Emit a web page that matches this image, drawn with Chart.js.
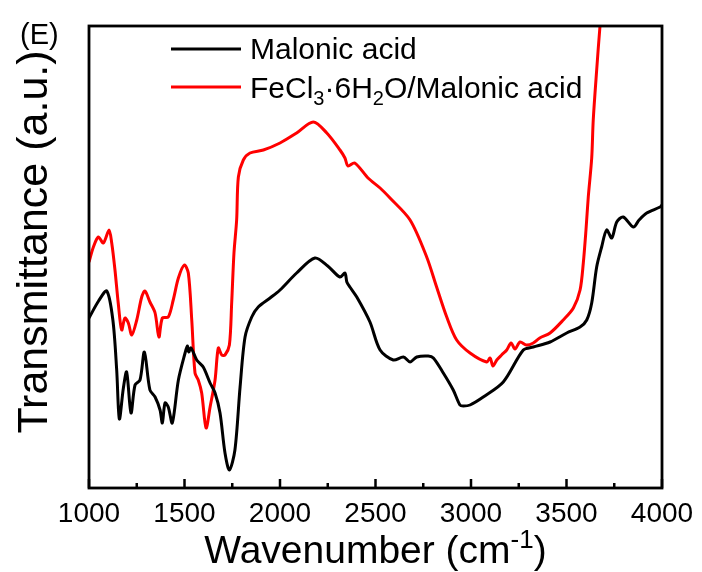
<!DOCTYPE html>
<html>
<head>
<meta charset="utf-8">
<script src="https://cdn.jsdelivr.net/npm/chart.js@4/dist/chart.umd.min.js"></script>
<style>
  html, body { margin: 0; padding: 0; background: #fff; }
  #wrap { width: 702px; height: 572px; }
</style>
</head>
<body>
<div id="wrap"><canvas id="ftir"></canvas></div>
<script>
/* ===== Data (arbitrary transmittance units) ===== */
const malonicX = [1000, 1050, 1093, 1125, 1145, 1159, 1180, 1197, 1220, 1241, 1267, 1290, 1319, 1346, 1372, 1384, 1398, 1415, 1436, 1468, 1503, 1515, 1522, 1534, 1564, 1598, 1634, 1660, 1686, 1712, 1735, 1764, 1791, 1817, 1852, 1886, 1948, 2000, 2087, 2183, 2250, 2314, 2340, 2350, 2366, 2402, 2471, 2524, 2593, 2646, 2681, 2716, 2776, 2803, 2855, 2907, 2942, 2960, 2995, 3064, 3169, 3274, 3326, 3414, 3501, 3571, 3606, 3632, 3658, 3684, 3710, 3737, 3763, 3797, 3850, 3880, 3920, 3990, 4000];
const malonicY = [170, 187, 197, 168, 118, 69, 100, 116, 75, 103, 108, 136, 98, 91, 78, 65, 85, 81, 65, 108, 135, 142, 136, 140, 128, 121, 105, 95, 75, 35, 18, 38, 101, 151, 171, 181, 190, 198, 215, 230, 222, 211, 215, 206, 201, 191, 166, 138, 128, 131, 126, 131, 132, 130, 115, 98, 83, 82, 83, 91, 106, 138, 141, 146, 155, 161, 168, 185, 221, 241, 258, 250, 266, 271, 261, 268, 275, 281, 283];

const fecl3X = [1000, 1023, 1049, 1075, 1105, 1119, 1136, 1153, 1171, 1188, 1206, 1224, 1250, 1276, 1293, 1319, 1346, 1366, 1384, 1415, 1441, 1468, 1499, 1520, 1538, 1555, 1572, 1590, 1613, 1634, 1660, 1677, 1695, 1712, 1735, 1747, 1759, 1773, 1782, 1808, 1843, 1913, 2000, 2087, 2174, 2245, 2314, 2340, 2356, 2391, 2461, 2524, 2576, 2681, 2768, 2820, 2873, 2925, 2995, 3082, 3100, 3115, 3135, 3160, 3187, 3210, 3230, 3257, 3290, 3326, 3360, 3414, 3483, 3536, 3571, 3588, 3602, 3614, 3632, 3640, 3658, 3675, 3690];
const fecl3Y = [226, 241, 251, 245, 258, 245, 218, 185, 158, 170, 165, 153, 168, 191, 197, 186, 175, 151, 170, 171, 188, 210, 223, 215, 168, 115, 108, 95, 60, 81, 108, 140, 133, 133, 143, 185, 235, 268, 311, 328, 335, 338, 345, 355, 366, 355, 338, 330, 322, 325, 310, 300, 290, 268, 231, 201, 171, 148, 135, 126, 130, 122, 128, 133, 138, 145, 139, 146, 143, 145, 150, 155, 168, 180, 198, 225, 258, 291, 330, 368, 418, 461, 490];

const xMajorTicks = [1000, 1500, 2000, 2500, 3000, 3500, 4000];
const xMinorTicks = [1250, 1750, 2250, 2750, 3250, 3750];

const FONT = "'Liberation Sans', Arial, sans-serif";

function pts(xs, ys) {
    return xs.map((x, i) => ({ x: x, y: ys[i] }));
}

/* ---- draw a run of text pieces, some lowered/raised ---- */
function drawRuns(ctx, runs, x, y) {
    let cx = x;
    runs.forEach(r => {
        ctx.font = r.size + 'px ' + FONT;
        ctx.fillText(r.t, cx, y + (r.dy || 0));
        cx += ctx.measureText(r.t).width;
    });
    return cx;
}
function runsWidth(ctx, runs) {
    let w = 0;
    runs.forEach(r => { ctx.font = r.size + 'px ' + FONT; w += ctx.measureText(r.t).width; });
    return w;
}

/* ---- frame, inward ticks, titles, legend ---- */
const decor = {
    id: 'decor',
    afterDraw(chart) {
        const ctx = chart.ctx;
        const a = chart.chartArea;
        const xs = chart.scales.x;
        ctx.save();
        ctx.strokeStyle = '#000';
        ctx.fillStyle = '#000';
        ctx.lineWidth = 2.8;
        ctx.strokeRect(a.left, a.top, a.right - a.left, a.bottom - a.top);

        ctx.lineWidth = 2.5;
        ctx.beginPath();
        xMajorTicks.forEach(v => {
            const px = xs.getPixelForValue(v);
            ctx.moveTo(px, a.bottom); ctx.lineTo(px, a.bottom - 9);
        });
        xMinorTicks.forEach(v => {
            const px = xs.getPixelForValue(v);
            ctx.moveTo(px, a.bottom); ctx.lineTo(px, a.bottom - 5);
        });
        ctx.stroke();

        ctx.textBaseline = 'alphabetic';
        ctx.textAlign = 'left';

        // x title
        const xt = [
            { t: 'Wavenumber (cm', size: 39 },
            { t: '-1', size: 26, dy: -15 },
            { t: ')', size: 39 }
        ];
        const cx = (a.left + a.right) / 2;
        drawRuns(ctx, xt, cx - runsWidth(ctx, xt) / 2, 563);

        // y title
        ctx.save();
        ctx.translate(47, 242);
        ctx.rotate(-Math.PI / 2);
        ctx.font = '43px ' + FONT;
        ctx.textAlign = 'center';
        ctx.fillText('Transmittance (a.u.)', 0, 0);
        ctx.restore();

        // panel tag
        ctx.font = '29px ' + FONT;
        ctx.fillText('(E)', 20, 44);

        // legend
        ctx.lineWidth = 3;
        ctx.strokeStyle = '#000';
        ctx.beginPath(); ctx.moveTo(171, 49); ctx.lineTo(241, 49); ctx.stroke();
        ctx.strokeStyle = '#ff0000';
        ctx.beginPath(); ctx.moveTo(171, 87); ctx.lineTo(241, 87); ctx.stroke();
        drawRuns(ctx, [{ t: 'Malonic acid', size: 30 }], 250, 59);
        drawRuns(ctx, [
            { t: 'FeCl', size: 30 },
            { t: '3', size: 20, dy: 7 },
            { t: '\u00b76H', size: 30 },
            { t: '2', size: 20, dy: 7 },
            { t: 'O/Malonic acid', size: 30 }
        ], 250, 98);
        ctx.restore();
    }
};

new Chart(document.getElementById('ftir'), {
    type: 'line',
    data: {
        datasets: [
            { label: 'Malonic acid', data: pts(malonicX, malonicY), borderColor: '#000', borderWidth: 3, pointRadius: 0, tension: 0.3 },
            { label: 'FeCl3·6H2O/Malonic acid', data: pts(fecl3X, fecl3Y), borderColor: '#ff0000', borderWidth: 3, pointRadius: 0, tension: 0.3 }
        ]
    },
    options: {
        responsive: true, maintainAspectRatio: false,
        animation: false,
        events: [],
        layout: { padding: { left: 89, right: 40, top: 26, bottom: 0 } },
        plugins: { legend: { display: false }, tooltip: { enabled: false } },
        scales: {
            x: {
                type: 'linear', min: 1000, max: 4000,
                afterBuildTicks: s => { s.ticks = xMajorTicks.map(v => ({ value: v })); },
                afterFit: s => { s.height = 84; s.paddingLeft = 0; s.paddingRight = 0; },
                grid: { display: false, drawTicks: false },
                border: { display: false },
                ticks: {
                    color: '#000', padding: 9, maxRotation: 0,
                    font: { family: FONT, size: 28 },
                    callback: v => String(v)
                }
            },
            y: { display: false, min: 0, max: 462 }
        }
    },
    plugins: [decor]
});
</script>
</body>
</html>
